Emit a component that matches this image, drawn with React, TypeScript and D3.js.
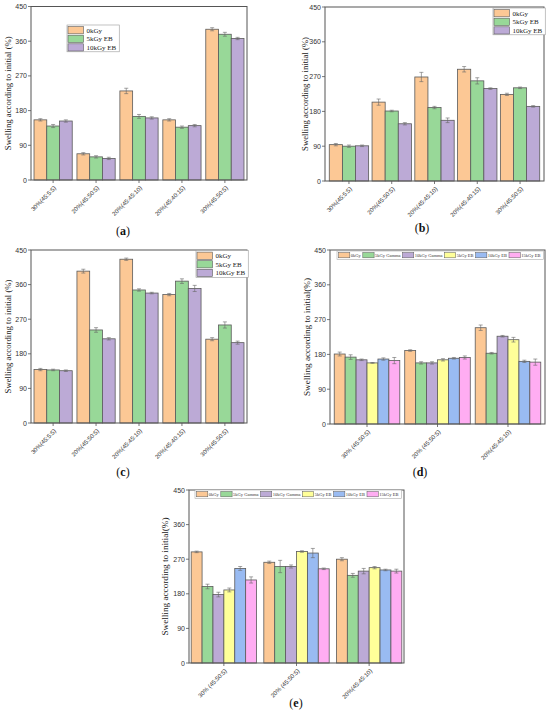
import React from "react";
import * as d3 from "d3";

const SERIF = "'Liberation Serif','Times New Roman',serif";
const SANS = "'Liberation Sans',Arial,sans-serif";

const yTicks = [0, 90, 180, 270, 360, 450];

const catsABC = ["30%(45:5:5)", "20%(45:50:5)", "20%(45:45:10)", "20%(45:40:15)", "30%(45:50:5)"];
const seriesABC = ["0kGy", "5kGy EB", "10kGy EB"];
const colorsABC = ["#FCC895", "#98D898", "#BCAAD6"];

const valsA = [
  [156, 68, 231, 156, 391],
  [140, 60, 165, 137, 378],
  [153, 56, 161, 141, 367],
];
const errsA = [
  [3, 3, 7, 3, 4],
  [4, 3, 5, 3, 5],
  [3, 3, 3, 3, 3],
];

const valsB = [
  [94, 204, 269, 289, 224],
  [90, 181, 190, 259, 241],
  [91, 148, 157, 239, 193],
];
const errsB = [
  [3, 8, 12, 7, 3],
  [3, 2, 3, 8, 2],
  [2, 3, 6, 2, 2],
];

const valsC = [
  [139, 395, 426, 334, 218],
  [138, 242, 346, 369, 255],
  [136, 219, 338, 350, 209],
];
const errsC = [
  [3, 5, 3, 3, 4],
  [2, 6, 3, 6, 8],
  [2, 3, 2, 8, 4],
];

const catsDE = ["30% (45:50:5)", "20% (45:50:5)", "20%(45:45:10)"];
const seriesDE = ["0kGy", "5kGy Gamma", "10kGy Gamma", "5kGy EB", "10kGy EB", "15kGy EB"];
const colorsDE = ["#FCC895", "#98D898", "#BCAAD6", "#FFFF99", "#99BBF2", "#FFADF2"];

const valsD = [
  [181, 190, 249],
  [173, 158, 183],
  [166, 158, 227],
  [158, 166, 218],
  [168, 170, 162],
  [164, 172, 160],
];
const errsD = [
  [5, 2, 7],
  [6, 3, 2],
  [2, 3, 2],
  [1, 3, 6],
  [3, 2, 3],
  [8, 4, 8],
];

const valsE = [
  [289, 262, 270],
  [199, 251, 228],
  [178, 251, 239],
  [190, 290, 248],
  [246, 286, 242],
  [216, 245, 239],
];
const errsE = [
  [2, 3, 4],
  [6, 16, 5],
  [6, 4, 7],
  [5, 2, 3],
  [5, 12, 2],
  [8, 2, 5],
];

let ctx: CanvasRenderingContext2D | null = null;
function textW(s: string, size: number, family: string) {
  if (!ctx) ctx = document.createElement("canvas").getContext("2d");
  if (!ctx) return s.length * size * 0.5;
  ctx.font = `${size}px ${family}`;
  return ctx.measureText(s).width;
}

type PanelProps = {
  l: number; r: number; t: number; b: number;
  cats: string[]; series: string[]; colors: string[];
  vals: number[][]; errs: number[][];
  pi: number; po: number;
  yTitle: string; yTitleX: number; yTitleSize: number;
  label: string; labelX: number; labelY: number;
  legend: { kind: "col" | "row"; x: number; y: number };
};

function Panel(p: PanelProps) {
  const y = d3.scaleLinear().domain([0, 450]).range([p.b, p.t]);
  const x0 = d3.scaleBand<string>().domain(p.cats).range([p.l, p.r]).paddingInner(p.pi).paddingOuter(p.po);
  const x1 = d3.scaleBand<string>().domain(p.series).range([0, x0.bandwidth()]);
  const bw = x1.bandwidth();
  const stroke = "#5a5a5a";

  let legendEl: React.ReactNode = null;
  if (p.legend.kind === "col") {
    const fs = 7;
    const rowH = 8.6;
    const sw = 15.5;
    const maxT = d3.max(p.series, (s) => textW(s, fs, SERIF)) || 0;
    const w = 1 + sw + 3 + maxT + 3;
    const h = rowH * p.series.length + 1;
    legendEl = (
      <g>
        <rect x={p.legend.x} y={p.legend.y} width={w} height={h} fill="white" stroke="#999" strokeWidth={0.6} />
        {p.series.map((s, i) => (
          <g key={s}>
            <rect x={p.legend.x + 1} y={p.legend.y + 1 + i * rowH + 0.6} width={sw} height={rowH - 1.4}
              fill={p.colors[i]} stroke={stroke} strokeWidth={0.6} />
            <text x={p.legend.x + 1 + sw + 3} y={p.legend.y + 1 + i * rowH + rowH / 2 + 0.3}
              fontSize={fs} fontFamily={SERIF} dominantBaseline="central" fill="#222">{s}</text>
          </g>
        ))}
      </g>
    );
  } else {
    const fs = 4.5;
    const sw = 11.3;
    let cx = p.legend.x + 1.5;
    const items = p.series.map((s, i) => {
      const tx = cx + sw + 1;
      const tw = textW(s, fs, SERIF);
      const el = (
        <g key={s}>
          <rect x={cx} y={p.legend.y + 1.5} width={sw} height={5.3} fill={p.colors[i]} stroke={stroke} strokeWidth={0.5} />
          <text x={tx} y={p.legend.y + 4.3} fontSize={fs} fontFamily={SERIF} dominantBaseline="central" fill="#333">{s}</text>
        </g>
      );
      cx = tx + tw + 2;
      return el;
    });
    const w = cx - p.legend.x + 1;
    legendEl = (
      <g>
        <rect x={p.legend.x} y={p.legend.y} width={w} height={8.5} fill="white" stroke="#aaa" strokeWidth={0.6} />
        {items}
      </g>
    );
  }

  const letter = p.label;
  return (
    <g>
      {p.series.map((s, i) =>
        p.cats.map((c, j) => {
          const v = p.vals[i][j];
          return (
            <rect key={s + c} x={(x0(c) || 0) + (x1(s) || 0)} y={y(v)} width={bw} height={p.b - y(v)}
              fill={p.colors[i]} stroke={stroke} strokeWidth={0.8} />
          );
        })
      )}
      {p.series.map((s, i) =>
        p.cats.map((c, j) => {
          const v = p.vals[i][j];
          const e = p.errs[i][j];
          const cx = (x0(c) || 0) + (x1(s) || 0) + bw / 2;
          return (
            <g key={"e" + s + c} stroke="#666" strokeWidth={0.6}>
              <line x1={cx} x2={cx} y1={y(v - e)} y2={y(v + e)} />
              <line x1={cx - 2} x2={cx + 2} y1={y(v + e)} y2={y(v + e)} />
              <line x1={cx - 2} x2={cx + 2} y1={y(v - e)} y2={y(v - e)} />
            </g>
          );
        })
      )}
      <rect x={p.l} y={p.t} width={p.r - p.l} height={p.b - p.t} fill="none" stroke="#555" strokeWidth={1} />
      {yTicks.map((v) => (
        <g key={"y" + v}>
          <line x1={p.l - 3} x2={p.l} y1={y(v)} y2={y(v)} stroke="#555" strokeWidth={0.8} />
          <text x={p.l - 4} y={y(v)} textAnchor="end" dominantBaseline="central" fontSize={7} fontFamily={SANS} fill="#333">{v}</text>
        </g>
      ))}
      {p.cats.map((c) => {
        const cx = (x0(c) || 0) + x0.bandwidth() / 2;
        return (
          <g key={"x" + c}>
            <line x1={cx} x2={cx} y1={p.b} y2={p.b + 3} stroke="#555" strokeWidth={0.8} />
            <text transform={`translate(${cx + 2},${p.b + 7}) rotate(-45)`} textAnchor="end" dominantBaseline="central"
              fontSize={6} fontFamily={SANS} fill="#333">{c}</text>
          </g>
        );
      })}
      {legendEl}
      <text transform={`translate(${p.yTitleX},${(p.t + p.b) / 2}) rotate(-90)`} textAnchor="middle" dominantBaseline="central"
        fontSize={p.yTitleSize} fontFamily={SERIF} fill="#222">{p.yTitle}</text>
      <text x={p.labelX} y={p.labelY} textAnchor="middle" fontSize={12} fontFamily={SERIF} fill="#111">
        (<tspan fontWeight="bold">{letter}</tspan>)
      </text>
    </g>
  );
}

export default function App() {
  const t1 = "Swelling according to initial (%)";
  const t2 = "Swelling according to initial(%)";
  return (
    <div style={{ position: "absolute", left: 0, top: 0 }}>
      <svg width={550} height={719} style={{ display: "block", background: "white" }}>
        <Panel l={31} r={247} t={6.5} b={180} cats={catsABC} series={seriesABC} colors={colorsABC}
          vals={valsA} errs={errsA} pi={0.11} po={0.07} yTitle={t1} yTitleX={8} yTitleSize={8.7}
          label="a" labelX={123} labelY={235} legend={{ kind: "col", x: 67, y: 25 }} />
        <Panel l={325} r={544} t={7} b={181} cats={catsABC} series={seriesABC} colors={colorsABC}
          vals={valsB} errs={errsB} pi={0.08} po={0.1} yTitle={t1} yTitleX={305} yTitleSize={8.7}
          label="b" labelX={422} labelY={232} legend={{ kind: "col", x: 493, y: 8 }} />
        <Panel l={31} r={247} t={250} b={423} cats={catsABC} series={seriesABC} colors={colorsABC}
          vals={valsC} errs={errsC} pi={0.11} po={0.07} yTitle={t1} yTitleX={8} yTitleSize={8.7}
          label="c" labelX={123} labelY={476} legend={{ kind: "col", x: 196, y: 250.5 }} />
        <Panel l={330} r={545} t={250} b={424} cats={catsDE} series={seriesDE} colors={colorsDE}
          vals={valsD} errs={errsD} pi={0.07} po={0.06} yTitle={t2} yTitleX={307} yTitleSize={9.2}
          label="d" labelX={420} labelY={476} legend={{ kind: "row", x: 337, y: 251 }} />
        <Panel l={189} r={404} t={490} b={663} cats={catsDE} series={seriesDE} colors={colorsDE}
          vals={valsE} errs={errsE} pi={0.1} po={0.03} yTitle={t2} yTitleX={165} yTitleSize={9.2}
          label="e" labelX={296} labelY={707} legend={{ kind: "row", x: 195, y: 490 }} />
      </svg>
    </div>
  );
}
